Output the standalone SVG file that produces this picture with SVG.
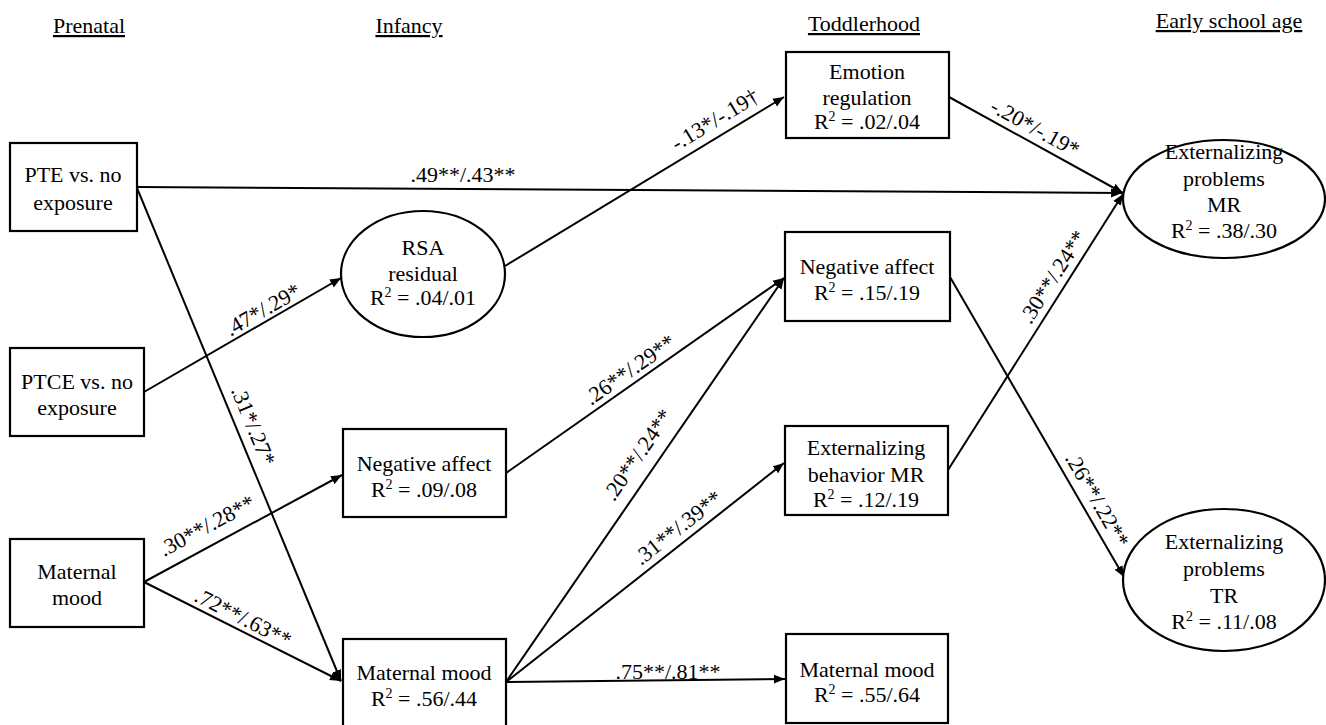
<svg xmlns="http://www.w3.org/2000/svg" width="1326" height="725" viewBox="0 0 1326 725" font-family="Liberation Serif, Tinos, Times New Roman, DejaVu Serif, serif" font-size="22">
<defs>
<marker id="ah" markerUnits="userSpaceOnUse" markerWidth="12" markerHeight="10" refX="11" refY="5" orient="auto">
<path d="M0,0.5 L11,5 L0,9.5 z" fill="#000"/>
</marker>
<style>
text{font-family:'Liberation Serif',Tinos,'Times New Roman','DejaVu Serif',serif;font-size:22px;fill:#000;text-anchor:middle}
.hdr{text-decoration:underline}
.box{fill:#fff;stroke:#000;stroke-width:2.2}
.edge{fill:none;stroke:#000;stroke-width:2;marker-end:url(#ah)}
.sup{font-size:14px}
</style>
</defs>
<rect width="1326" height="725" fill="#fff"/>
<g id="headers">
<text class="hdr" x="89" y="33">Prenatal</text>
<text class="hdr" x="409" y="33">Infancy</text>
<text class="hdr" x="864" y="31">Toddlerhood</text>
<text class="hdr" x="1229" y="28">Early school age</text>
</g>
<g id="connectors">
<path class="edge" d="M137,187 L1122,193"/>
<path class="edge" d="M137,188 L341,681"/>
<path class="edge" d="M144,392 L341,278"/>
<path class="edge" d="M144,582 L342,475"/>
<path class="edge" d="M144,582 L341,681"/>
<path class="edge" d="M505,266 L784,97"/>
<path class="edge" d="M506,473 L784,278"/>
<path class="edge" d="M506,682 L784,278"/>
<path class="edge" d="M506,682 L784,463"/>
<path class="edge" d="M506,682 L785,679"/>
<path class="edge" d="M949,97 L1123,193"/>
<path class="edge" d="M948,470 L1123,194"/>
<path class="edge" d="M950,277 L1124,577"/>
</g>
<g id="edge-labels">
<text x="463" y="182">.49**/.43**</text>
<text transform="translate(263,310) rotate(-30)" y="7">.47*/.29*</text>
<text transform="translate(253,426) rotate(67.6)" y="7">.31*/.27*</text>
<text transform="translate(207,526) rotate(-28.3)" y="7">.30**/.28**</text>
<text transform="translate(243,618) rotate(26.8)" y="7">.72**/.63**</text>
<text transform="translate(630,370) rotate(-35.1)" y="7">.26**/.29**</text>
<text transform="translate(638,455) rotate(-55.5)" y="7">.20**/.24**</text>
<text transform="translate(678,528) rotate(-38.3)" y="7">.31**/.39**</text>
<text x="668" y="679">.75**/.81**</text>
<text transform="translate(715,120) rotate(-31.2)" y="7">-.13*/-.19†</text>
<text transform="translate(1035,128) rotate(28.7)" y="7">-.20*/-.19*</text>
<text transform="translate(1053,277) rotate(-57.6)" y="7">.30**/.24**</text>
<text transform="translate(1097,500) rotate(59.9)" y="7">.26**/.22**</text>
</g>
<g id="pte">
<rect class="box" x="10" y="143" width="127" height="88"/>
<text x="73" y="182">PTE vs. no</text>
<text x="73" y="210">exposure</text>
</g>
<g id="ptce">
<rect class="box" x="10" y="348" width="134" height="88"/>
<text x="77" y="389">PTCE vs. no</text>
<text x="77" y="415">exposure</text>
</g>
<g id="maternal-mood-prenatal">
<rect class="box" x="10" y="539" width="134" height="88"/>
<text x="77" y="579">Maternal</text>
<text x="77" y="605">mood</text>
</g>
<g id="rsa">
<ellipse class="box" cx="423" cy="274" rx="82" ry="63"/>
<text x="423" y="255">RSA</text>
<text x="423" y="281">residual</text>
<text x="423" y="305">R<tspan class="sup" dy="-8">2</tspan><tspan dy="8"> = .04/.01</tspan></text>
</g>
<g id="negative-affect-infancy">
<rect class="box" x="343" y="429" width="163" height="88"/>
<text x="424" y="471">Negative affect</text>
<text x="424" y="497">R<tspan class="sup" dy="-8">2</tspan><tspan dy="8"> = .09/.08</tspan></text>
</g>
<g id="maternal-mood-infancy">
<rect class="box" x="343" y="639" width="163" height="90"/>
<text x="424" y="680">Maternal mood</text>
<text x="424" y="706">R<tspan class="sup" dy="-8">2</tspan><tspan dy="8"> = .56/.44</tspan></text>
</g>
<g id="emotion-regulation">
<rect class="box" x="786" y="52" width="163" height="86"/>
<text x="867" y="79">Emotion</text>
<text x="867" y="105">regulation</text>
<text x="867" y="129">R<tspan class="sup" dy="-8">2</tspan><tspan dy="8"> = .02/.04</tspan></text>
</g>
<g id="negative-affect-toddler">
<rect class="box" x="785" y="232" width="165" height="89"/>
<text x="867" y="274">Negative affect</text>
<text x="867" y="300">R<tspan class="sup" dy="-8">2</tspan><tspan dy="8"> = .15/.19</tspan></text>
</g>
<g id="externalizing-behavior-mr">
<rect class="box" x="785" y="426" width="163" height="89"/>
<text x="866" y="455">Externalizing</text>
<text x="866" y="482">behavior MR</text>
<text x="866" y="507">R<tspan class="sup" dy="-8">2</tspan><tspan dy="8"> = .12/.19</tspan></text>
</g>
<g id="maternal-mood-toddler">
<rect class="box" x="786" y="634" width="162" height="89"/>
<text x="867" y="677">Maternal mood</text>
<text x="867" y="702">R<tspan class="sup" dy="-8">2</tspan><tspan dy="8"> = .55/.64</tspan></text>
</g>
<g id="externalizing-problems-mr">
<ellipse class="box" cx="1224" cy="199" rx="101" ry="59"/>
<text x="1224" y="159">Externalizing</text>
<text x="1224" y="186">problems</text>
<text x="1224" y="212">MR</text>
<text x="1224" y="238">R<tspan class="sup" dy="-8">2</tspan><tspan dy="8"> = .38/.30</tspan></text>
</g>
<g id="externalizing-problems-tr">
<ellipse class="box" cx="1224" cy="580" rx="101" ry="71"/>
<text x="1224" y="549">Externalizing</text>
<text x="1224" y="576">problems</text>
<text x="1224" y="603">TR</text>
<text x="1224" y="629">R<tspan class="sup" dy="-8">2</tspan><tspan dy="8"> = .11/.08</tspan></text>
</g>
</svg>
